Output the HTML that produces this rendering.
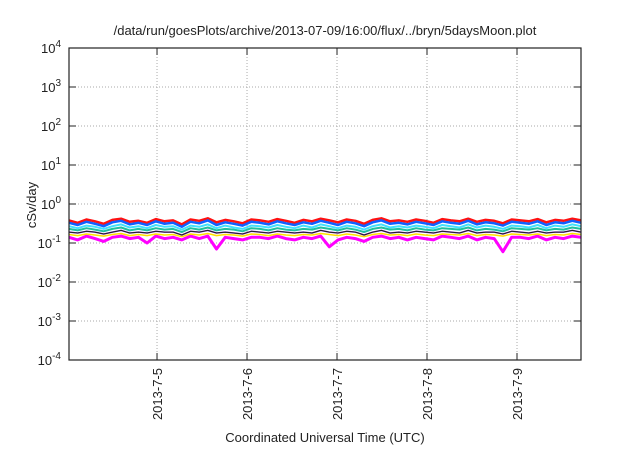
<!DOCTYPE html>
<html><head><meta charset="utf-8"><style>
body{margin:0;background:#fff;}
svg text{font-family:"Liberation Sans",sans-serif;fill:#222;}
</style></head><body>
<svg id="chart" width="640" height="448" viewBox="0 0 640 448">
<text x="325" y="35" font-size="13" text-anchor="middle">/data/run/goesPlots/archive/2013-07-09/16:00/flux/../bryn/5daysMoon.plot</text>
<g id="grid"></g><g id="series"></g><g id="axes"></g>
<text x="325" y="442" font-size="13" text-anchor="middle">Coordinated Universal Time (UTC)</text>
<text transform="translate(36,205) rotate(-90)" font-size="13" text-anchor="middle">cSv/day</text>
</svg>
<script>
const yExps=[-4,-3,-2,-1,0,1,2,3,4];
const xTickLabels=["2013-7-5","2013-7-6","2013-7-7","2013-7-8","2013-7-9"];
const xTickDays=[5,6,7,8,9];
const xStart=4.022, xEnd=9.711;
const red=[0.38,0.33,0.40,0.36,0.31,0.39,0.42,0.35,0.37,0.33,0.41,0.36,0.38,0.30,0.40,0.37,0.43,0.34,0.39,0.36,0.32,0.40,0.38,0.35,0.41,0.37,0.33,0.39,0.36,0.42,0.38,0.34,0.40,0.37,0.31,0.39,0.43,0.36,0.38,0.35,0.40,0.37,0.33,0.41,0.38,0.36,0.42,0.35,0.39,0.37,0.32,0.40,0.38,0.36,0.41,0.34,0.39,0.37,0.42,0.38];
const blue=[0.33,0.29,0.35,0.31,0.27,0.34,0.37,0.30,0.33,0.29,0.36,0.31,0.33,0.26,0.35,0.32,0.38,0.29,0.34,0.31,0.28,0.35,0.33,0.30,0.36,0.32,0.29,0.34,0.31,0.37,0.33,0.29,0.35,0.32,0.27,0.34,0.38,0.31,0.33,0.30,0.35,0.32,0.29,0.36,0.33,0.31,0.37,0.30,0.34,0.32,0.28,0.35,0.33,0.31,0.36,0.29,0.34,0.32,0.37,0.33];
const cyan=[0.27,0.24,0.28,0.26,0.23,0.27,0.30,0.25,0.27,0.24,0.29,0.26,0.27,0.22,0.28,0.26,0.30,0.24,0.28,0.25,0.23,0.28,0.27,0.25,0.29,0.26,0.24,0.28,0.25,0.30,0.27,0.24,0.28,0.26,0.22,0.27,0.30,0.25,0.27,0.25,0.28,0.26,0.24,0.29,0.27,0.25,0.30,0.25,0.28,0.26,0.23,0.28,0.27,0.25,0.29,0.24,0.28,0.26,0.30,0.27];
const teal=[0.23,0.21,0.24,0.22,0.20,0.23,0.25,0.21,0.23,0.21,0.24,0.22,0.23,0.19,0.24,0.22,0.25,0.21,0.23,0.22,0.20,0.24,0.23,0.21,0.24,0.22,0.21,0.23,0.22,0.25,0.23,0.21,0.24,0.22,0.19,0.23,0.25,0.22,0.23,0.21,0.24,0.22,0.21,0.24,0.23,0.22,0.25,0.21,0.23,0.22,0.20,0.24,0.23,0.22,0.24,0.21,0.23,0.22,0.25,0.23];
const purple=[0.19,0.18,0.20,0.19,0.17,0.19,0.21,0.18,0.19,0.18,0.20,0.19,0.19,0.16,0.20,0.19,0.21,0.18,0.19,0.18,0.17,0.20,0.19,0.18,0.20,0.19,0.18,0.19,0.18,0.21,0.19,0.18,0.20,0.19,0.16,0.19,0.21,0.18,0.19,0.18,0.20,0.19,0.18,0.20,0.19,0.18,0.21,0.18,0.19,0.19,0.17,0.20,0.19,0.18,0.20,0.18,0.19,0.19,0.21,0.19];
const yellow=[0.165,0.155,0.17,0.16,0.15,0.165,0.175,0.155,0.165,0.155,0.17,0.16,0.165,0.145,0.17,0.16,0.175,0.155,0.165,0.16,0.15,0.17,0.165,0.155,0.17,0.16,0.155,0.165,0.16,0.175,0.165,0.155,0.17,0.16,0.145,0.165,0.175,0.16,0.165,0.155,0.17,0.16,0.155,0.17,0.165,0.16,0.175,0.155,0.165,0.16,0.15,0.17,0.165,0.16,0.17,0.155,0.165,0.16,0.175,0.165];
const magenta=[0.14,0.12,0.15,0.13,0.11,0.14,0.15,0.13,0.14,0.10,0.15,0.13,0.14,0.12,0.15,0.13,0.15,0.07,0.14,0.13,0.12,0.14,0.14,0.13,0.15,0.13,0.12,0.14,0.13,0.15,0.08,0.12,0.14,0.13,0.11,0.14,0.15,0.13,0.14,0.12,0.14,0.13,0.12,0.15,0.14,0.13,0.15,0.12,0.14,0.13,0.06,0.14,0.14,0.13,0.15,0.12,0.14,0.13,0.15,0.14];
const seriesList=[["magenta",magenta,"#ff00ff",3],["yellow",yellow,"#ffe000",1.5],["purple",purple,"#8a2be2",1.5],["black",purple,"#222",1],["teal",teal,"#20c0a0",2],["cyan",cyan,"#40e0ff",2],["red",red,"#ff1010",2.5],["blue",blue,"#1060ff",2.5]];
const L=69,R=581,T=48,B=360;
const ys=v=>B-(Math.log10(v)+4)*(B-T)/8;
const xs=d=>L+(d-xStart)/(xEnd-xStart)*(R-L);
const NS="http://www.w3.org/2000/svg";
const g=document.getElementById('grid'),s=document.getElementById('series'),a=document.getElementById('axes');
function mk(tag,attrs,p){const e=document.createElementNS(NS,tag);for(const k in attrs)e.setAttribute(k,attrs[k]);p.appendChild(e);return e;}
yExps.forEach(e=>{const y=ys(Math.pow(10,e));
 if(e>-4&&e<4){const l=mk('line',{x1:L,x2:R,y1:y,y2:y,stroke:'#aaa','stroke-dasharray':'1,2'},g);
 
 }
 mk('line',{x1:L,x2:L+7,y1:y,y2:y,stroke:'#222'},a);mk('line',{x1:R,x2:R-7,y1:y,y2:y,stroke:'#222'},a);
 const t=mk('text',{x:L-8,y:y+5,'font-size':13,'text-anchor':'end'},a);
 
 
 t.innerHTML='10<tspan dy="-6" font-size="10">'+e+'</tspan>';});
xTickDays.forEach((d,i)=>{const x=xs(d);
 const l=mk('line',{x1:x,x2:x,y1:T,y2:B,stroke:'#aaa','stroke-dasharray':'1,2'},g);
 
 
 mk('line',{x1:x,x2:x,y1:B,y2:B-7,stroke:'#222'},a);mk('line',{x1:x,x2:x,y1:T,y2:T+7,stroke:'#222'},a);
 const t=mk('text',{transform:`translate(${x+5},${B+8}) rotate(-90)`,'font-size':13,'text-anchor':'end'},a);
 
 
 t.textContent=xTickLabels[i];});
const fr=mk('rect',{x:L,y:T,width:R-L,height:B-T,fill:'none',stroke:'#222','stroke-width':1.2},a);


seriesList.forEach(([n,vals,c,w])=>{const pts=vals.map((v,i)=>xs(xStart+i*(xEnd-xStart)/(vals.length-1)).toFixed(1)+','+ys(v).toFixed(1)).join(' ');
 const p=mk('polyline',{points:pts,fill:'none',stroke:c,'stroke-width':w,'stroke-linejoin':'round'},s);
 
 });
</script>
</body></html>
